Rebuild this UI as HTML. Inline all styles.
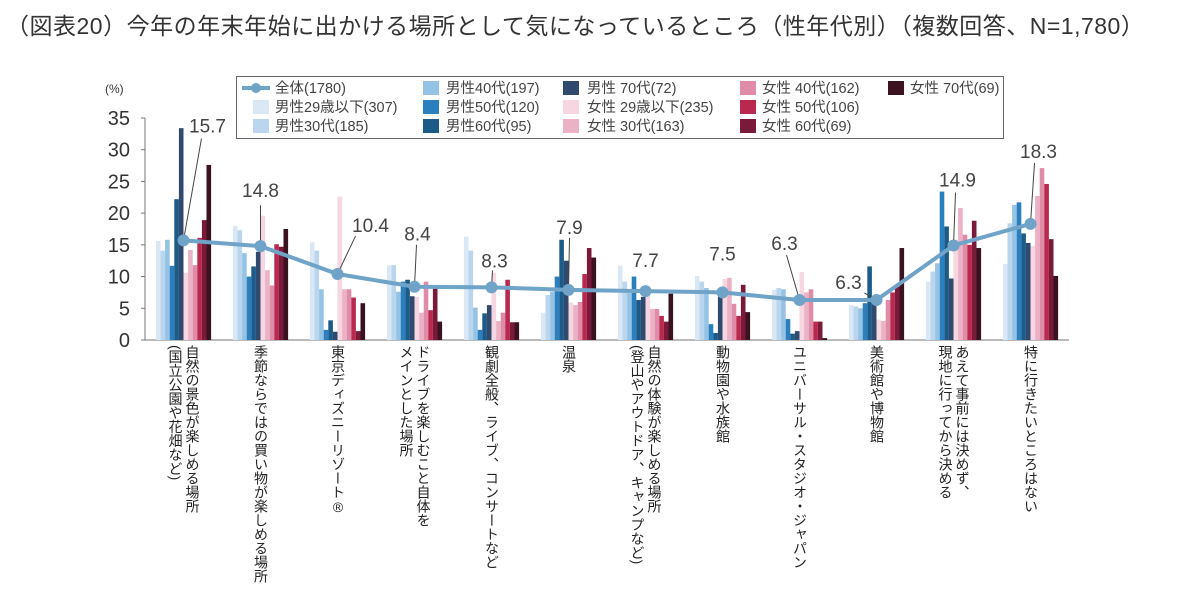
<!DOCTYPE html>
<html><head><meta charset="utf-8">
<style>
body{margin:0;background:#fff;width:1202px;height:613px;overflow:hidden;position:relative;font-family:"Liberation Sans","Noto Sans CJK JP",sans-serif;}
#title{position:absolute;left:6px;top:7px;font-size:23px;color:#333;white-space:nowrap;letter-spacing:0.5px;}
svg{position:absolute;left:0;top:0;}
.xl{position:absolute;top:345px;writing-mode:vertical-rl;font-size:14px;line-height:17px;color:#222;white-space:nowrap;transform:translateX(-50%);}
</style></head><body>
<div id="title">（図表20）今年の年末年始に出かける場所として気になっているところ（性年代別）（複数回答、N=1,780）</div>
<svg id="chart" width="1202" height="613"></svg>
<script>
const categories=["自然の景色が楽しめる場所\n(国立公園や花畑など)","季節ならではの買い物が楽しめる場所","東京ディズニーリゾート®","ドライブを楽しむこと自体を\nメインとした場所","観劇全般、ライブ、コンサートなど","温泉","自然の体験が楽しめる場所\n(登山やアウトドア、キャンプなど)","動物園や水族館","ユニバーサル・スタジオ・ジャパン","美術館や博物館","あえて事前には決めず、\n現地に行ってから決める","特に行きたいところはない"];
const seriesNames=["男性29歳以下(307)","男性30代(185)","男性40代(197)","男性50代(120)","男性60代(95)","男性 70代(72)","女性 29歳以下(235)","女性 30代(163)","女性 40代(162)","女性 50代(106)","女性 60代(69)","女性 70代(69)"];
const m29=[15.6,18.0,15.4,11.8,16.3,4.3,11.7,10.1,7.9,5.5,9.2,12.0];
const m30=[14.1,17.3,14.1,11.8,14.1,7.1,9.2,9.2,8.2,5.3,10.8,18.4];
const m40=[15.8,13.7,8.0,7.6,5.1,7.6,7.4,8.2,8.0,5.0,12.1,21.3];
const m50=[11.7,10.0,1.6,9.2,1.6,10.0,10.0,2.5,3.3,5.8,23.4,21.7];
const m60=[22.2,11.6,3.1,9.5,4.2,15.8,6.3,1.1,1.0,11.6,17.9,16.8];
const m70=[33.4,13.9,1.3,6.9,5.5,12.5,6.8,6.8,1.4,6.0,9.7,15.3];
const f29=[10.6,19.6,22.6,6.8,10.6,5.9,7.9,9.6,10.7,3.2,15.8,14.8];
const f30=[14.2,11.0,8.0,4.3,3.0,5.5,4.9,9.8,7.5,3.0,20.8,22.7];
const f40=[11.8,8.6,8.0,9.2,4.3,6.0,4.9,5.7,8.0,6.3,16.6,27.1];
const f50=[16.1,15.1,6.7,4.7,9.5,10.4,3.8,3.8,2.9,7.5,15.0,24.6];
const f60=[18.9,14.7,1.4,8.5,2.8,14.5,2.9,8.7,2.9,8.4,18.8,15.9];
const f70=[27.6,17.5,5.8,2.9,2.8,13.0,7.3,4.4,0.3,14.5,14.5,10.1];
const total=[15.7,14.8,10.4,8.4,8.3,7.9,7.7,7.5,6.3,6.3,14.9,18.3];
const yTicks=[0,5,10,15,20,25,30,35];

const series=[m29,m30,m40,m50,m60,m70,f29,f30,f40,f50,f60,f70];
const colors=["#dae8f5","#bad6ee","#94c3e5","#2a7fbe","#1c5a88","#2f4a6d","#f6d6e0","#ebb1c4","#e08ba7","#b9294f","#7a1a3b","#3b1220"];
const NS="http://www.w3.org/2000/svg";
const svg=document.getElementById('chart');
const X0=145,GW=77,Y0=340,YT=118,YMAX=35,BW=4.6;
const y=v=>Y0-(v/YMAX)*(Y0-YT);
const cx=i=>X0+GW*(i+0.5);
function el(tag,attrs,parent){const e=document.createElementNS(NS,tag);for(const k in attrs)e.setAttribute(k,attrs[k]);(parent||svg).appendChild(e);return e;}

let lb=el('rect',{x:236.5,y:76.5,width:767,height:62,fill:'#fff',stroke:'#666'});


const lx=[[240,275],[423,446],[563,587],[740,762],[888,910]];
const ly=[88,107,126];
const legendNames=["全体(1780)"].concat(seriesNames);
legendNames.forEach((n,k)=>{
  const col=Math.floor(k/3),row=k%3;
  const g=el('g',{});
  
  
  if(k===0){
    el('line',{x1:lx[0][0]+2,y1:ly[0],x2:lx[0][0]+30,y2:ly[0],stroke:'#6fa3c8','stroke-width':4},g);
    el('circle',{cx:lx[0][0]+16,cy:ly[0],r:5,fill:'#6fa3c8'},g);
  }else{
    const sx=col===0?lx[0][0]+13:lx[col][0];
    el('rect',{x:sx,y:ly[row]-7,width:16,height:14,fill:colors[k-1]},g);
  }
  const t=el('text',{x:lx[col][1],y:ly[row]+5,'font-size':14.5,fill:'#444'},g);
  t.textContent=n;
});

let ax=el('line',{x1:X0,y1:YT,x2:X0,y2:Y0,stroke:'#777','stroke-width':1});


let xa=el('line',{x1:X0,y1:Y0,x2:X0+GW*12,y2:Y0,stroke:'#777','stroke-width':1});


yTicks.forEach(t=>{
  let tk=el('line',{x1:X0-4,y1:y(t),x2:X0,y2:y(t),stroke:'#777'});
  
  
  let tx=el('text',{x:X0-15,y:y(t)+7,'text-anchor':'end','font-size':20,fill:'#333'});
  tx.textContent=t;
  
  
});
let pu=el('text',{x:105,y:93,'font-size':12,fill:'#333'});pu.textContent='(%)';



categories.forEach((c,i)=>{
  const start=cx(i)-BW*series.length/2;
  series.forEach((s,j)=>{
    let r=el('rect',{x:start+j*BW,y:y(s[i]),width:BW,height:Y0-y(s[i]),fill:colors[j]});
    
    
  });
  const d=document.createElement('div');
  d.className='xl';d.style.left=cx(i)+'px';
  d.innerHTML=c.split('\n').join('<br>');
  
  
  document.body.appendChild(d);
});

const pts=total.map((v,i)=>cx(i)+','+y(v)).join(' ');
let pl=el('polyline',{points:pts,fill:'none',stroke:'#6fa3c8','stroke-width':4});


const labOff=[[24,-115,18,-102],[0,-56,0,-41],[33,-49,18,-38],[3,-53,2,-42],[3,-27,1,-17],[1,-63,1,-52],[0,-31,null],[0,-39,null],[-15,-57,-13,-45],[-28,-18,-12,-7],[4,-66,2,-53],[8,-73,4,-61]];
total.forEach((v,i)=>{
  const px=cx(i),py=y(v),o=labOff[i];
  if(o[2]!==null){
    let ld=el('line',{x1:px,y1:py,x2:px+o[2],y2:py+o[3],stroke:'#444','stroke-width':1});
    
    
  }
  let c=el('circle',{cx:px,cy:py,r:6,fill:'#6fa3c8'});
  
  
  let t=el('text',{x:px+o[0],y:py+o[1]+7,'text-anchor':'middle','font-size':19,fill:'#444'});
  t.textContent=v.toFixed(1);
  
  
});
</script>
</body></html>
